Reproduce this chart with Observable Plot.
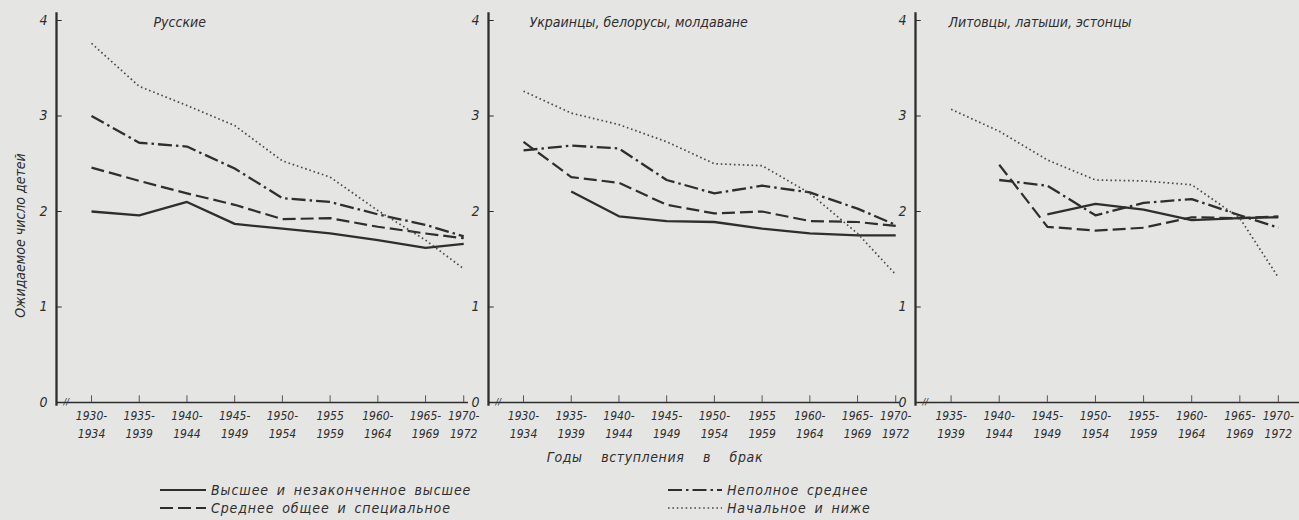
<!DOCTYPE html>
<html>
<head>
<meta charset="utf-8">
<script src="https://cdn.jsdelivr.net/npm/d3@7"></script>
<script src="https://cdn.jsdelivr.net/npm/@observablehq/plot@0.6"></script>
<style>
  html, body { margin: 0; padding: 0; background: #e5e5e3; }
  #wrap { position: relative; width: 1299px; height: 520px; overflow: hidden; background: #e5e5e3;
          font-family: 'DejaVu Sans Condensed', 'DejaVu Sans', sans-serif; font-style: italic; color: #2e2e2e; }
  .xlab { position: absolute; top: 449px; left: 520px; width: 270px; text-align: center; font-size: 14px; word-spacing: 14px; letter-spacing: 0.6px; }
  .leg { position: absolute; display: flex; align-items: center; font-size: 14px; letter-spacing: 0.9px; word-spacing: 3px; height: 16px; white-space: nowrap; }
  .leg svg { margin-right: 5px; }
</style>
</head>
<body>
<div id="wrap"></div>
<script>
const ink = "#2e2e2e";

// Marriage periods (tick labels) and their mid-years
const periods1 = ["1930-\n1934","1935-\n1939","1940-\n1944","1945-\n1949","1950-\n1954","1955\n1959","1960-\n1964","1965-\n1969","1970-\n1972"];
const mids1 = [1932, 1937, 1942, 1947, 1952, 1957, 1962, 1967, 1971];
const periods3 = ["1935-\n1939","1940-\n1944","1945-\n1949","1950-\n1954","1955-\n1959","1960-\n1964","1965-\n1969","1970-\n1972"];
const mids3 = [1937, 1942, 1947, 1952, 1957, 1962, 1967, 1971];

const seriesNames = ["Высшее и незаконченное высшее", "Среднее общее и специальное", "Неполное среднее", "Начальное и ниже"];

// Русские
const rusHigher     = [2.00, 1.96, 2.10, 1.87, 1.82, 1.77, 1.70, 1.62, 1.66];
const rusSecondary  = [2.46, 2.32, 2.19, 2.07, 1.92, 1.93, 1.84, 1.77, 1.72];
const rusIncomplete = [3.00, 2.72, 2.68, 2.45, 2.14, 2.10, 1.97, 1.86, 1.74];
const rusPrimary    = [3.76, 3.31, 3.11, 2.90, 2.53, 2.36, 2.01, 1.70, 1.40];

// Украинцы, белорусы, молдаване
const ukrHigher     = [null, 2.21, 1.95, 1.90, 1.89, 1.82, 1.77, 1.75, 1.75];
const ukrSecondary  = [2.73, 2.36, 2.30, 2.07, 1.98, 2.00, 1.90, 1.89, 1.85];
const ukrIncomplete = [2.64, 2.69, 2.66, 2.33, 2.19, 2.27, 2.20, 2.03, 1.86];
const ukrPrimary    = [3.26, 3.03, 2.91, 2.73, 2.50, 2.48, 2.19, 1.77, 1.34];

// Литовцы, латыши, эстонцы
const balHigher     = [null, null, 1.97, 2.08, 2.02, 1.91, 1.93, 1.94];
const balSecondary  = [null, 2.49, 1.84, 1.80, 1.83, 1.94, 1.93, 1.95];
const balIncomplete = [null, 2.33, 2.27, 1.96, 2.09, 2.13, 1.96, 1.83];
const balPrimary    = [3.07, 2.84, 2.54, 2.33, 2.32, 2.28, 1.93, 1.31];

const yTicks = [0, 1, 2, 3, 4];

const lineStyles = [
  {strokeWidth: 2.3, strokeDasharray: null, stroke: ink},
  {strokeWidth: 2.2, strokeDasharray: "13,5", stroke: ink},
  {strokeWidth: 2.3, strokeDasharray: "14,4,2.5,4", stroke: ink},
  {strokeWidth: 1.7, strokeDasharray: "1.6,2.8", stroke: "#4a4a4a"}
];

function panel({title, labels, mids, values, domain, left, width, marginLeft, marginRight, titleDx, yLabel}) {
  const lbl = new Map(mids.map((m, i) => [m, labels[i]]));
  const marks = [
    Plot.ruleY([0], {stroke: ink, strokeWidth: 1.4}),
    Plot.ruleX([domain[0]], {x: d => d, y1: -0.04, y2: 4.08, stroke: ink, strokeWidth: 2.3}),
    Plot.ruleY(yTicks, {y: d => d, x1: domain[0], x2: domain[0] + 0.6, stroke: ink, strokeWidth: 1}),
    Plot.ruleX(mids, {x: d => d, y1: 0, y2: 0.07, stroke: "#555", strokeWidth: 1}),
    Plot.axisY(yTicks, {anchor: "left", label: null, tickSize: 0, tickPadding: 9, tickFormat: d => String(d), fontSize: 14, fill: ink}),
    Plot.axisX(mids, {anchor: "bottom", label: null, tickSize: 0, tickPadding: 5, tickFormat: d => lbl.get(d), fontSize: 12, lineHeight: 1.5, fill: ink}),
    Plot.text(["//"], {frameAnchor: "bottom-left", dx: 7, dy: 0, fontSize: 9, fill: ink, lineAnchor: "middle"}),
    Plot.text([title], {frameAnchor: "top-left", dx: titleDx, dy: 2, lineAnchor: "middle", textAnchor: "start", fontSize: 14, fill: ink, letterSpacing: "2.2px"})
  ];
  values.forEach((vals, s) => {
    const rows = mids.map((m, i) => ({x: m, y: vals[i], series: seriesNames[s]})).filter(d => d.y != null);
    marks.push(Plot.line(rows, {x: "x", y: "y", ...lineStyles[s], strokeLinejoin: "round", strokeLinecap: "butt"}));
  });
  if (yLabel) {
    marks.push(Plot.text([yLabel], {frameAnchor: "left", textAnchor: "middle", dx: -36, dy: 24, rotate: -90, fontSize: 14, fill: ink, letterSpacing: "1.6px"}));
  }
  const svg = Plot.plot({
    width, height: 445,
    marginLeft, marginRight, marginTop: 20, marginBottom: 43,
    x: {domain, type: "linear"},
    y: {domain: [0, 4]},
    style: {background: "transparent", fontFamily: "'DejaVu Sans Condensed', 'DejaVu Sans', sans-serif", fontStyle: "italic", fontSize: "13px", color: ink, overflow: "visible"},
    marks
  });
  svg.style.position = "absolute";
  svg.style.left = left + "px";
  svg.style.top = "0px";
  return svg;
}

const wrap = document.getElementById("wrap");
wrap.appendChild(panel({
  title: "Русские", labels: periods1, mids: mids1,
  values: [rusHigher, rusSecondary, rusIncomplete, rusPrimary],
  domain: [1928.33, 1971.5], left: 0, width: 470, marginLeft: 56, marginRight: 2, titleDx: 97,
  yLabel: "Ожидаемое число детей"
}));
wrap.appendChild(panel({
  title: "Украинцы, белорусы, молдаване", labels: periods1, mids: mids1,
  values: [ukrHigher, ukrSecondary, ukrIncomplete, ukrPrimary],
  domain: [1928.33, 1971.5], left: 466, width: 436, marginLeft: 22, marginRight: 2, titleDx: 41
}));
wrap.appendChild(panel({
  title: "Литовцы, латыши, эстонцы", labels: periods3, mids: mids3,
  values: [balHigher, balSecondary, balIncomplete, balPrimary],
  domain: [1933.3, 1973.2], left: 893, width: 406, marginLeft: 22, marginRight: 0, titleDx: 33
}));

const xl = document.createElement("div");
xl.className = "xlab";
xl.textContent = "Годы вступления в брак";
wrap.appendChild(xl);

// Legend
const legendPos = [
  {left: 160, top: 482, w: 46},
  {left: 160, top: 500, w: 46},
  {left: 668, top: 482, w: 54},
  {left: 668, top: 500, w: 54}
];
seriesNames.forEach((name, i) => {
  const p = legendPos[i];
  const st = lineStyles[i];
  const div = document.createElement("div");
  div.className = "leg";
  div.style.left = p.left + "px";
  div.style.top = p.top + "px";
  div.innerHTML = `<svg width="${p.w}" height="16"><line x1="0" x2="${p.w}" y1="8" y2="8" stroke="${st.stroke}" stroke-width="${Math.min(st.strokeWidth, 2)}" ${st.strokeDasharray ? `stroke-dasharray="${st.strokeDasharray}"` : ""}/></svg><span>${name}</span>`;
  wrap.appendChild(div);
});
</script>
</body>
</html>
